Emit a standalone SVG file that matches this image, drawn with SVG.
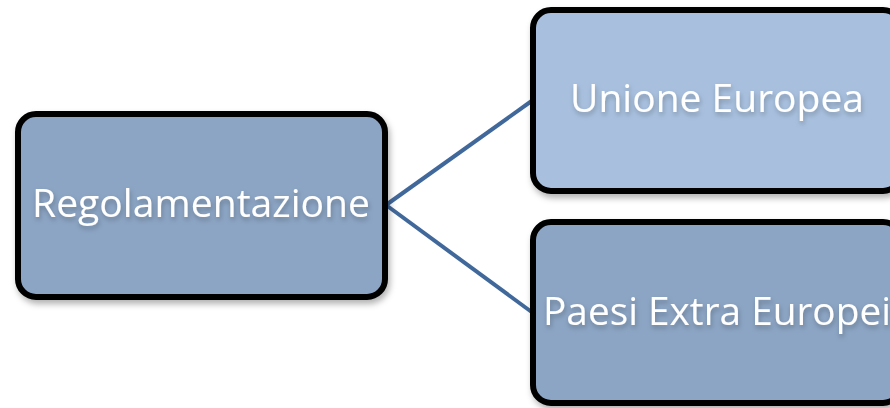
<svg xmlns="http://www.w3.org/2000/svg" width="890" height="408" viewBox="0 0 890 408">
<defs>
<filter id="sh" x="-10%" y="-10%" width="125%" height="130%">
<feDropShadow dx="2" dy="4" stdDeviation="3" flood-color="#000" flood-opacity="0.3"/>
</filter>
<filter id="ts" x="-5%" y="-20%" width="110%" height="150%">
<feDropShadow dx="1" dy="3" stdDeviation="2.5" flood-color="#000" flood-opacity="0.25"/>
</filter>
</defs>
<style>
.box{stroke:#000;stroke-width:6}
.dark{fill:#8CA5C4}
.light{fill:#A8C0DE}
.lbl{fill:#fff;font-family:"Open Sans","Noto Sans",sans-serif;font-size:38px;text-anchor:middle}
.conn{stroke:#41689A;stroke-width:4;fill:none}
</style>
<rect width="890" height="408" fill="#fff"/>
<g id="connectors">
<line class="conn" x1="386" y1="205" x2="533" y2="100"/>
<line class="conn" x1="386" y1="205" x2="533" y2="313"/>
</g>
<g id="node-regolamentazione">
<rect class="box dark" x="18" y="114" width="367" height="183" rx="18" filter="url(#sh)"/>
<text class="lbl" x="201" y="217" textLength="338" lengthAdjust="spacingAndGlyphs" filter="url(#ts)">Regolamentazione</text>
</g>
<g id="node-unione-europea">
<rect class="box light" x="533" y="10" width="368" height="181" rx="18" filter="url(#sh)"/>
<text class="lbl" x="717" y="112" textLength="294" lengthAdjust="spacingAndGlyphs" filter="url(#ts)">Unione Europea</text>
</g>
<g id="node-paesi-extra-europei">
<rect class="box dark" x="533" y="222" width="368" height="181" rx="18" filter="url(#sh)"/>
<text class="lbl" x="717" y="325" textLength="348" lengthAdjust="spacingAndGlyphs" filter="url(#ts)">Paesi Extra Europei</text>
</g>
</svg>
